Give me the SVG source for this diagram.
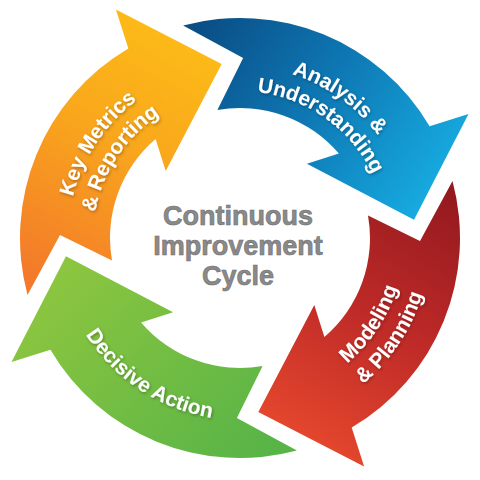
<svg xmlns="http://www.w3.org/2000/svg" xmlns:xlink="http://www.w3.org/1999/xlink" width="480" height="480" viewBox="0 0 480 480">
<style>
.lbl{font-family:"Liberation Sans",Arial,sans-serif;font-weight:bold;font-size:21px;fill:#ffffff;}
.ctr{font-family:"Liberation Sans",Arial,sans-serif;font-weight:bold;font-size:27px;fill:#8a8a8a;stroke:#6e6e6e;stroke-width:0.6;text-anchor:middle;}
</style>
<defs>
<linearGradient id="gO" gradientUnits="userSpaceOnUse" x1="200" y1="20" x2="60" y2="290">
<stop offset="0" stop-color="#FDBE16"/><stop offset="0.45" stop-color="#F9A81C"/><stop offset="1" stop-color="#F37A2A"/>
</linearGradient>
<linearGradient id="gB" gradientUnits="userSpaceOnUse" x1="190" y1="40" x2="420" y2="200">
<stop offset="0" stop-color="#0A4E86"/><stop offset="0.5" stop-color="#0E78B4"/><stop offset="1" stop-color="#16A8DE"/>
</linearGradient>
<linearGradient id="gR" gradientUnits="userSpaceOnUse" x1="440" y1="190" x2="300" y2="440">
<stop offset="0" stop-color="#951A1F"/><stop offset="0.5" stop-color="#BE2A27"/><stop offset="1" stop-color="#E5472D"/>
</linearGradient>
<linearGradient id="gG" gradientUnits="userSpaceOnUse" x1="70" y1="255" x2="270" y2="450">
<stop offset="0" stop-color="#8DC63F"/><stop offset="1" stop-color="#58B447"/>
</linearGradient>
<filter id="sh" x="-10%" y="-10%" width="120%" height="120%">
<feDropShadow dx="1" dy="1.5" stdDeviation="1.5" flood-color="#000" flood-opacity="0.3"/>
</filter>
<path id="tpO1" d="M111.2,352.0 A172,172 0 0,1 294.6,74.9"/>
<path id="tpO2" d="M129.9,335.4 A147,147 0 0,1 286.6,98.6"/>
<path id="tpB1" d="M130.6,105.3 A172,172 0 0,1 401.1,298.2"/>
<path id="tpB2" d="M146.5,124.6 A147,147 0 0,1 377.7,289.5"/>
<path id="tpR1" d="M187.6,394.5 A165,165 0 0,0 363.6,128.7"/>
<path id="tpR2" d="M179.4,419.1 A191,191 0 0,0 383.1,111.4"/>
<path id="tpG1" d="M67.4,180.3 A182,182 0 0,0 360.6,374.3"/>
</defs>
<rect width="480" height="480" fill="#ffffff"/>

<g id="arrow-key-metrics">
<path fill="url(#gO)" d="M27.5,294.9 A220,220 0 0,1 128.3,48.4 L115.9,9.5 L221.7,64.0 L165.7,171.1 L155.6,139.1 A130,130 0 0,0 112.0,260.6 L60.0,234.9 Z"/>
<text class="lbl" filter="url(#sh)"><textPath xlink:href="#tpO1" startOffset="50%" text-anchor="middle">Key Metrics</textPath></text>
<text class="lbl" filter="url(#sh)"><textPath xlink:href="#tpO2" startOffset="50%" text-anchor="middle">&amp; Reporting</textPath></text>
</g>

<g id="arrow-analysis">
<path fill="url(#gB)" d="M183.1,25.5 A220,220 0 0,1 429.6,126.3 L468.5,113.9 L414.0,219.7 L306.9,163.7 L338.9,153.6 A130,130 0 0,0 217.4,110.0 L243.1,58.0 Z"/>
<text class="lbl" filter="url(#sh)"><textPath xlink:href="#tpB1" startOffset="50%" text-anchor="middle">Analysis &amp;</textPath></text>
<text class="lbl" filter="url(#sh)"><textPath xlink:href="#tpB2" startOffset="50%" text-anchor="middle">Understanding</textPath></text>
</g>

<g id="arrow-modeling">
<path fill="url(#gR)" d="M452.5,181.1 A220,220 0 0,1 351.7,427.6 L364.1,466.5 L258.3,412.0 L314.3,304.9 L324.4,336.9 A130,130 0 0,0 368.0,215.4 L420.0,241.1 Z"/>
<text class="lbl" filter="url(#sh)"><textPath xlink:href="#tpR1" startOffset="50%" text-anchor="middle">Modeling</textPath></text>
<text class="lbl" filter="url(#sh)"><textPath xlink:href="#tpR2" startOffset="50%" text-anchor="middle">&amp; Planning</textPath></text>
</g>

<g id="arrow-decisive">
<path fill="url(#gG)" d="M296.9,450.5 A220,220 0 0,1 50.4,349.7 L11.5,362.1 L66.0,256.3 L173.1,312.3 L141.1,322.4 A130,130 0 0,0 262.6,366.0 L236.9,418.0 Z"/>
<text class="lbl" filter="url(#sh)"><textPath xlink:href="#tpG1" startOffset="50%" text-anchor="middle">Decisive Action</textPath></text>
</g>

<g id="center-title">
<text class="ctr" x="238" y="225">Continuous</text>
<text class="ctr" x="238" y="255">Improvement</text>
<text class="ctr" x="238" y="285">Cycle</text>
</g>
</svg>
